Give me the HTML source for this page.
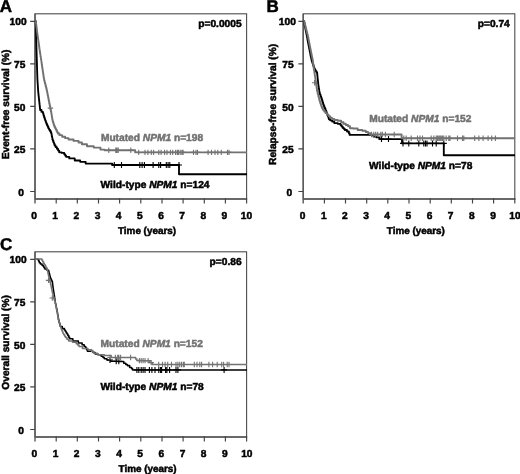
<!DOCTYPE html>
<html lang="en">
<head>
<meta charset="utf-8">
<title>Survival by NPM1 mutation status</title>
<style>
html,body{margin:0;padding:0;background:#fff;}
body{width:520px;height:474px;overflow:hidden;}
svg{display:block;filter:blur(0.3px);}
svg text{font-family:"Liberation Sans", Arial, Helvetica, sans-serif;font-weight:bold;font-size:10.2px;fill:#000;stroke:#000;stroke-width:0.5px;text-rendering:geometricPrecision;}
svg text.g{fill:#727272;stroke:#727272;}
svg text.t{font-size:9.9px;}
svg text.L{font-size:17px;stroke-width:0.5px;}
</style>
</head>
<body>
<svg width="520" height="474" viewBox="0 0 520 474">
<rect width="520" height="474" fill="#fff"/>
<rect x="35.0" y="13.8" width="211.6" height="185.2" fill="none" stroke="#4c4c4c" stroke-width="1.1"/>
<path d="M35.0 13.8V203.4M34.8 199.0H247.1" stroke="#585858" stroke-width="1.4" fill="none"/>
<path d="M30.2 191.5H35.0M30.2 148.9H35.0M30.2 106.4H35.0M30.2 63.9H35.0M30.2 21.3H35.0M56.2 198.2V203.4M77.3 198.2V203.4M98.5 198.2V203.4M119.6 198.2V203.4M140.8 198.2V203.4M162.0 198.2V203.4M183.1 198.2V203.4M204.3 198.2V203.4M225.4 198.2V203.4M246.6 198.2V203.4" stroke="#444" stroke-width="1.15" fill="none"/>
<text x="23.9" y="196.2" text-anchor="end">0</text>
<text x="25.4" y="153.4" text-anchor="end">25</text>
<text x="25.4" y="110.6" text-anchor="end">50</text>
<text x="25.4" y="67.9" text-anchor="end">75</text>
<text x="26.6" y="25.1" text-anchor="end">100</text>
<text x="34.0" y="218.8" text-anchor="middle">0</text>
<text x="55.2" y="218.8" text-anchor="middle">1</text>
<text x="76.3" y="218.8" text-anchor="middle">2</text>
<text x="97.5" y="218.8" text-anchor="middle">3</text>
<text x="118.6" y="218.8" text-anchor="middle">4</text>
<text x="139.8" y="218.8" text-anchor="middle">5</text>
<text x="161.0" y="218.8" text-anchor="middle">6</text>
<text x="182.1" y="218.8" text-anchor="middle">7</text>
<text x="203.3" y="218.8" text-anchor="middle">8</text>
<text x="224.4" y="218.8" text-anchor="middle">9</text>
<text x="246.4" y="218.8" text-anchor="middle">10</text>
<text x="118.0" y="233.6" class="t">Time (years)</text>
<text transform="translate(9.4 104.4) rotate(-90)" text-anchor="middle">Event-free survival (%)</text>
<text x="-0.3" y="12.4" class="L">A</text>
<text x="241.6" y="26.9" text-anchor="end">p=0.0005</text>
<text x="100.9" y="141.1" class="g">Mutated <tspan font-style="italic">NPM1</tspan> n=198</text>
<text x="100.6" y="188.3">Wild-type <tspan font-style="italic">NPM1</tspan> n=124</text>
<path d="M35.8 21.2H35.82V22.65H35.83H35.85V24.09H35.86H35.88V25.54H35.89H35.91V26.98H35.92H35.94V28.43H35.95H35.97V29.88H35.98H36.00V31.32H36.02H36.03V32.77H36.05H36.06V34.22H36.08H36.09V35.66H36.11H36.12V37.11H36.14H36.15V38.55H36.17H36.18V40.00H36.20H36.22V41.54H36.25H36.27V43.08H36.29H36.32V44.62H36.34H36.36V46.15H36.38H36.41V47.69H36.43H36.45V49.23H36.48H36.50V50.77H36.52H36.55V52.31H36.57H36.59V53.85H36.62H36.64V55.38H36.66H36.68V56.92H36.71H36.73V58.46H36.75H36.78V60.00H36.80H36.82V61.46H36.85H36.87V62.92H36.89H36.92V64.38H36.94H36.96V65.85H36.98H37.01V67.31H37.03H37.05V68.77H37.08H37.10V70.23H37.12H37.15V71.69H37.17H37.19V73.15H37.22H37.24V74.62H37.26H37.28V76.08H37.31H37.33V77.54H37.35H37.38V79.00H37.40H37.45V80.58H37.50H37.55V82.15H37.60H37.65V83.72H37.70H37.75V85.30H37.80H37.85V86.88H37.90H37.95V88.45H38.00H38.05V90.02H38.10H38.15V91.60H38.20H38.28V93.06H38.36H38.44V94.51H38.51H38.59V95.97H38.67H38.75V97.43H38.83H38.91V98.89H38.99H39.06V100.34H39.14H39.22V101.80H39.30H39.39V103.44H39.48H39.57V105.08H39.66H39.75V106.72H39.84H39.93V108.36H40.02H40.11V110.00H40.20H41.50V111.90H42.80H42.98V113.27H43.17H43.35V114.63H43.53H43.72V116.00H43.90H44.16V117.53H44.42H44.69V119.05H44.95H45.21V120.57H45.48H45.74V122.10H46.00H46.34V123.65H46.67H47.01V125.20H47.35H47.69V126.75H48.03H48.36V128.30H48.70H49.12V129.67H49.53H49.95V131.03H50.37H50.78V132.40H51.20H51.33V133.76H51.46H51.59V135.12H51.72H51.85V136.48H51.98H52.11V137.84H52.24H52.37V139.20H52.50H52.80V140.75H53.10H53.40V142.30H53.70H54.00V143.85H54.30H54.60V145.40H54.90H55.58V147.10H56.25H56.92V148.80H57.60H58.12V150.55H58.65H59.18V152.30H59.70H61.75V152.90H63.80H64.25V154.20H64.70H65.15V155.50H65.60H66.05V156.80H66.50H69.25V158.40H72.00H74.75V160.50H77.50H80.20V161.80H82.90H85.65V163.60H88.40L111.5 163.6H112.25V165.00H113.00L179.0 165.0L179.0 174.2L247.0 174.2" stroke="#000" stroke-width="1.85" fill="none" stroke-linejoin="round"/>
<path d="M114.3 162.0V168.0M111.3 165.0H117.3M121.5 162.0V168.0M118.5 165.0H124.5M139.8 162.0V168.0M136.8 165.0H142.8M142.1 162.0V168.0M139.1 165.0H145.1M144.4 162.0V168.0M141.4 165.0H147.4M153.1 162.0V168.0M150.1 165.0H156.1M158.8 162.0V168.0M155.8 165.0H161.8M160.6 162.0V168.0M157.6 165.0H163.6M166.3 162.0V168.0M163.3 165.0H169.3M168.1 162.0V168.0M165.1 165.0H171.1M169.8 162.0V168.0M166.8 165.0H172.8M179.0 162.0V168.0M176.0 165.0H182.0" stroke="#000" stroke-width="1.1" fill="none"/>
<path d="M35.8 21.2H35.89V22.62H35.98H36.07V24.04H36.16H36.24V25.47H36.33H36.42V26.89H36.51H36.60V28.31H36.69H36.78V29.73H36.87H36.96V31.16H37.04H37.13V32.58H37.22H37.31V34.00H37.40H37.50V35.46H37.61H37.71V36.92H37.82H37.92V38.38H38.02H38.13V39.85H38.23H38.33V41.31H38.44H38.54V42.77H38.65H38.75V44.23H38.85H38.96V45.69H39.06H39.17V47.15H39.27H39.37V48.62H39.48H39.58V50.08H39.68H39.79V51.54H39.89H40.00V53.00H40.10H40.23V54.62H40.35H40.48V56.23H40.60H40.73V57.85H40.85H40.98V59.47H41.10H41.23V61.08H41.35H41.48V62.70H41.60H41.71V64.18H41.82H41.93V65.66H42.04H42.15V67.15H42.25H42.36V68.63H42.47H42.58V70.11H42.69H42.80V71.59H42.91H43.02V73.07H43.13H43.24V74.55H43.35H43.45V76.04H43.56H43.67V77.52H43.78H43.89V79.00H44.00H44.19V80.44H44.37H44.56V81.89H44.74H44.93V83.33H45.11H45.30V84.77H45.49H45.67V86.21H45.86H46.04V87.66H46.23H46.41V89.10H46.60H46.76V90.69H46.91H47.07V92.27H47.23H47.38V93.86H47.54H47.69V95.45H47.85H48.01V97.04H48.16H48.32V98.62H48.48H48.63V100.21H48.79H48.94V101.80H49.10H49.26V103.38H49.42H49.59V104.95H49.75H49.91V106.52H50.08H50.24V108.10H50.40H50.57V109.80H50.73H50.90V111.50H51.07H51.23V113.20H51.40H51.51V114.58H51.62H51.73V115.96H51.84H51.95V117.34H52.06H52.17V118.72H52.28H52.39V120.10H52.50H52.71V121.45H52.92H53.14V122.80H53.35H53.56V124.15H53.78H53.99V125.50H54.20H54.54V126.88H54.88H55.21V128.25H55.55H55.89V129.62H56.23H56.56V131.00H56.90H57.20V132.25H57.50H57.80V133.50H58.10H59.45V135.15H60.80H62.15V136.80H63.50H65.17V138.15H66.85H68.53V139.50H70.20H73.55V140.90H76.90H78.58V142.55H80.25H81.92V144.20H83.60H87.00V146.20H90.40H93.75V147.60H97.10H100.45V149.60H103.80H104.60V150.30H105.40L134.6 150.3H135.20V152.40H135.80L247.0 152.4" stroke="#727272" stroke-width="1.9" fill="none" stroke-linejoin="round"/>
<path d="M50.4 105.4V110.8M47.7 108.1H53.1M108.8 147.6V153.0M106.1 150.3H111.5M115.8 147.6V153.0M113.1 150.3H118.5M116.9 147.6V153.0M114.2 150.3H119.6M118.2 147.6V153.0M115.5 150.3H120.9M130.8 147.6V153.0M128.1 150.3H133.5M138.7 149.7V155.1M136.0 152.4H141.4M145.0 149.7V155.1M142.3 152.4H147.7M147.9 149.7V155.1M145.2 152.4H150.6M151.3 149.7V155.1M148.6 152.4H154.0M153.6 149.7V155.1M150.9 152.4H156.3M158.8 149.7V155.1M156.1 152.4H161.5M161.1 149.7V155.1M158.4 152.4H163.8M164.6 149.7V155.1M161.9 152.4H167.3M167.0 149.7V155.1M164.3 152.4H169.7M170.4 149.7V155.1M167.7 152.4H173.1M172.7 149.7V155.1M170.0 152.4H175.4M175.6 149.7V155.1M172.9 152.4H178.3M177.3 149.7V155.1M174.6 152.4H180.0M178.4 149.7V155.1M175.7 152.4H181.1M180.2 149.7V155.1M177.5 152.4H182.9M181.9 149.7V155.1M179.2 152.4H184.6M183.1 149.7V155.1M180.4 152.4H185.8M193.5 149.7V155.1M190.8 152.4H196.2M196.0 149.7V155.1M193.3 152.4H198.7M197.5 149.7V155.1M194.8 152.4H200.2M208.1 149.7V155.1M205.4 152.4H210.8M211.5 149.7V155.1M208.8 152.4H214.2M215.0 149.7V155.1M212.3 152.4H217.7M217.8 149.7V155.1M215.1 152.4H220.5M221.3 149.7V155.1M218.6 152.4H224.0M227.5 149.7V155.1M224.8 152.4H230.2M229.0 149.7V155.1M226.3 152.4H231.7" stroke="#727272" stroke-width="1.1" fill="none"/>
<rect x="303.2" y="13.8" width="211.6" height="185.2" fill="none" stroke="#4c4c4c" stroke-width="1.1"/>
<path d="M303.2 13.8V203.4M303.0 199.0H515.3" stroke="#585858" stroke-width="1.4" fill="none"/>
<path d="M298.4 191.5H303.2M298.4 148.9H303.2M298.4 106.4H303.2M298.4 63.9H303.2M298.4 21.3H303.2M324.4 198.2V203.4M345.5 198.2V203.4M366.7 198.2V203.4M387.8 198.2V203.4M409.0 198.2V203.4M430.2 198.2V203.4M451.3 198.2V203.4M472.5 198.2V203.4M493.6 198.2V203.4M514.8 198.2V203.4" stroke="#444" stroke-width="1.15" fill="none"/>
<text x="292.1" y="196.2" text-anchor="end">0</text>
<text x="293.6" y="153.4" text-anchor="end">25</text>
<text x="293.6" y="110.6" text-anchor="end">50</text>
<text x="293.6" y="67.9" text-anchor="end">75</text>
<text x="295.8" y="25.1" text-anchor="end">100</text>
<text x="302.6" y="218.8" text-anchor="middle">0</text>
<text x="323.8" y="218.8" text-anchor="middle">1</text>
<text x="344.9" y="218.8" text-anchor="middle">2</text>
<text x="366.1" y="218.8" text-anchor="middle">3</text>
<text x="387.2" y="218.8" text-anchor="middle">4</text>
<text x="408.4" y="218.8" text-anchor="middle">5</text>
<text x="429.6" y="218.8" text-anchor="middle">6</text>
<text x="450.7" y="218.8" text-anchor="middle">7</text>
<text x="471.9" y="218.8" text-anchor="middle">8</text>
<text x="493.0" y="218.8" text-anchor="middle">9</text>
<text x="515.0" y="218.8" text-anchor="middle">10</text>
<text x="386.8" y="233.6" class="t">Time (years)</text>
<text transform="translate(276.4 104.4) rotate(-90)" text-anchor="middle">Relapse-free survival (%)</text>
<text x="266.6" y="12.4" class="L">B</text>
<text x="509.8" y="26.9" text-anchor="end">p=0.74</text>
<text x="369.2" y="122.4" class="g">Mutated <tspan font-style="italic">NPM1</tspan> n=152</text>
<text x="369.1" y="169.4">Wild-type <tspan font-style="italic">NPM1</tspan> n=78</text>
<path d="M304.0 21.2H304.14V22.69H304.29H304.44V24.18H304.58H304.73V25.67H304.87H305.01V27.16H305.16H305.30V28.65H305.45H305.60V30.14H305.74H305.88V31.63H306.03H306.17V33.12H306.32H306.46V34.61H306.61H306.75V36.10H306.90H307.04V37.62H307.19H307.33V39.14H307.48H307.62V40.67H307.77H307.91V42.19H308.06H308.20V43.71H308.34H308.49V45.23H308.63H308.78V46.76H308.92H309.07V48.28H309.21H309.36V49.80H309.50H309.65V51.26H309.80H309.95V52.71H310.10H310.25V54.17H310.40H310.55V55.63H310.70H310.85V57.09H311.00H311.15V58.54H311.30H311.45V60.00H311.60H311.85V61.48H312.10H312.35V62.97H312.60H312.85V64.45H313.10H313.35V65.93H313.60H313.85V67.42H314.10H314.35V68.90H314.60H315.02V70.17H315.43H315.85V71.43H316.27H316.68V72.70H317.10H317.18V74.28H317.26H317.34V75.85H317.43H317.51V77.42H317.59H317.67V79.00H317.75H317.83V80.58H317.91H317.99V82.15H318.07H318.16V83.72H318.24H318.32V85.30H318.40H318.52V86.82H318.64H318.76V88.34H318.88H319.00V89.86H319.12H319.24V91.38H319.36H319.48V92.90H319.60H319.92V94.60H320.23H320.55V96.30H320.87H321.18V98.00H321.50H321.74V99.58H321.98H322.21V101.15H322.45H322.69V102.72H322.92H323.16V104.30H323.40H323.71V105.88H324.02H324.34V107.45H324.65H324.96V109.02H325.27H325.59V110.60H325.90H326.17V112.03H326.45H326.73V113.47H327.00H327.27V114.90H327.55H327.82V116.33H328.10H328.38V117.77H328.65H328.92V119.20H329.20H330.17V120.35H331.15H332.12V121.50H333.10H334.25V123.10H335.40H337.70V123.80H340.00H340.52V125.10H341.03H341.55V126.40H342.07H342.58V127.70H343.10H343.68V128.85H344.25H344.82V130.00H345.40H346.95V131.50H348.50H348.88V133.20H349.25H349.62V134.90H350.00L372.3 134.9H373.45V136.60H374.60H376.55V137.40H378.50H379.50V139.10H380.50L402.0 139.1L402.0 143.4L443.8 143.4L443.8 155.2L515.0 155.2" stroke="#000" stroke-width="1.85" fill="none" stroke-linejoin="round"/>
<path d="M381.5 136.1V142.1M378.5 139.1H384.5M388.5 136.1V142.1M385.5 139.1H391.5M403.0 140.4V146.4M400.0 143.4H406.0M408.8 140.4V146.4M405.8 143.4H411.8M418.8 140.4V146.4M415.8 143.4H421.8M423.8 140.4V146.4M420.8 143.4H426.8M425.5 140.4V146.4M422.5 143.4H428.5M427.0 140.4V146.4M424.0 143.4H430.0M432.5 140.4V146.4M429.5 143.4H435.5M436.2 140.4V146.4M433.2 143.4H439.2M443.8 140.4V146.4M440.8 143.4H446.8" stroke="#000" stroke-width="1.1" fill="none"/>
<path d="M304.2 21.2H304.38V22.69H304.57H304.75V24.18H304.94H305.12V25.67H305.31H305.50V27.16H305.68H305.87V28.65H306.05H306.23V30.14H306.42H306.60V31.63H306.79H306.97V33.12H307.16H307.34V34.61H307.53H307.71V36.10H307.90H308.05V37.62H308.20H308.35V39.14H308.50H308.65V40.67H308.80H308.95V42.19H309.10H309.25V43.71H309.40H309.55V45.23H309.70H309.85V46.76H310.00H310.15V48.28H310.30H310.45V49.80H310.60H310.75V51.26H310.90H311.05V52.71H311.20H311.35V54.17H311.50H311.65V55.63H311.80H311.95V57.09H312.10H312.25V58.54H312.40H312.55V60.00H312.70H312.80V61.48H312.90H313.00V62.97H313.10H313.20V64.45H313.30H313.40V65.93H313.50H313.60V67.42H313.70H313.80V68.90H313.90H314.02V70.48H314.14H314.26V72.05H314.38H314.49V73.62H314.61H314.73V75.20H314.85H314.97V76.78H315.09H315.21V78.35H315.32H315.44V79.92H315.56H315.68V81.50H315.80H315.91V82.98H316.02H316.12V84.47H316.23H316.34V85.95H316.45H316.56V87.43H316.67H316.77V88.92H316.88H316.99V90.40H317.10H317.28V91.84H317.46H317.64V93.29H317.81H317.99V94.73H318.17H318.35V96.17H318.53H318.71V97.61H318.89H319.06V99.06H319.24H319.42V100.50H319.60H319.86V102.02H320.12H320.38V103.54H320.64H320.90V105.06H321.16H321.42V106.58H321.68H321.94V108.10H322.20H322.87V109.77H323.53H324.20V111.43H324.87H325.53V113.10H326.20H326.97V114.63H327.73H328.50V116.17H329.27H330.03V117.70H330.80H331.95V118.85H333.10H334.25V120.00H335.40H337.70V120.80H340.00H341.15V122.30H342.30H343.45V123.80H344.60H345.75V125.00H346.90H348.05V126.20H349.20H350.00V128.20H350.80H353.10V128.50H355.40H357.70V130.00H360.00H362.30V130.80H364.60H365.75V131.95H366.90H368.05V133.10H369.20H370.75V134.50H372.30L401.6 134.5L401.6 138.2L515.0 138.2" stroke="#727272" stroke-width="1.9" fill="none" stroke-linejoin="round"/>
<path d="M314.6 80.1V85.5M311.9 82.8H317.3M371.5 131.8V137.2M368.8 134.5H374.2M373.8 131.8V137.2M371.1 134.5H376.5M375.7 131.8V137.2M373.0 134.5H378.4M377.7 131.8V137.2M375.0 134.5H380.4M380.8 131.8V137.2M378.1 134.5H383.5M382.3 131.8V137.2M379.6 134.5H385.0M385.4 131.8V137.2M382.7 134.5H388.1M394.2 131.8V137.2M391.5 134.5H396.9M403.8 135.5V140.9M401.1 138.2H406.5M406.2 135.5V140.9M403.5 138.2H408.9M411.2 135.5V140.9M408.5 138.2H413.9M417.5 135.5V140.9M414.8 138.2H420.2M420.0 135.5V140.9M417.3 138.2H422.7M422.5 135.5V140.9M419.8 138.2H425.2M431.2 135.5V140.9M428.5 138.2H433.9M433.8 135.5V140.9M431.1 138.2H436.5M436.2 135.5V140.9M433.5 138.2H438.9M437.5 135.5V140.9M434.8 138.2H440.2M438.8 135.5V140.9M436.1 138.2H441.5M440.0 135.5V140.9M437.3 138.2H442.7M441.2 135.5V140.9M438.5 138.2H443.9M442.5 135.5V140.9M439.8 138.2H445.2M443.8 135.5V140.9M441.1 138.2H446.5M446.2 135.5V140.9M443.5 138.2H448.9M448.8 135.5V140.9M446.1 138.2H451.5M450.0 135.5V140.9M447.3 138.2H452.7M457.5 135.5V140.9M454.8 138.2H460.2M462.5 135.5V140.9M459.8 138.2H465.2M463.8 135.5V140.9M461.1 138.2H466.5M474.7 135.5V140.9M472.0 138.2H477.4M478.9 135.5V140.9M476.2 138.2H481.6M483.1 135.5V140.9M480.4 138.2H485.8M488.1 135.5V140.9M485.4 138.2H490.8M491.7 135.5V140.9M489.0 138.2H494.4M495.4 135.5V140.9M492.7 138.2H498.1" stroke="#727272" stroke-width="1.1" fill="none"/>
<rect x="35.0" y="251.8" width="211.6" height="185.2" fill="none" stroke="#4c4c4c" stroke-width="1.1"/>
<path d="M35.0 251.8V441.4M34.8 437.0H247.1" stroke="#585858" stroke-width="1.4" fill="none"/>
<path d="M30.2 429.5H35.0M30.2 386.9H35.0M30.2 344.4H35.0M30.2 301.9H35.0M30.2 259.3H35.0M56.2 436.2V441.4M77.3 436.2V441.4M98.5 436.2V441.4M119.6 436.2V441.4M140.8 436.2V441.4M162.0 436.2V441.4M183.1 436.2V441.4M204.3 436.2V441.4M225.4 436.2V441.4M246.6 436.2V441.4" stroke="#444" stroke-width="1.15" fill="none"/>
<text x="23.9" y="434.2" text-anchor="end">0</text>
<text x="25.4" y="391.4" text-anchor="end">25</text>
<text x="25.4" y="348.6" text-anchor="end">50</text>
<text x="25.4" y="305.9" text-anchor="end">75</text>
<text x="26.6" y="263.1" text-anchor="end">100</text>
<text x="34.4" y="456.8" text-anchor="middle">0</text>
<text x="55.6" y="456.8" text-anchor="middle">1</text>
<text x="76.7" y="456.8" text-anchor="middle">2</text>
<text x="97.9" y="456.8" text-anchor="middle">3</text>
<text x="119.0" y="456.8" text-anchor="middle">4</text>
<text x="140.2" y="456.8" text-anchor="middle">5</text>
<text x="161.4" y="456.8" text-anchor="middle">6</text>
<text x="182.5" y="456.8" text-anchor="middle">7</text>
<text x="203.7" y="456.8" text-anchor="middle">8</text>
<text x="224.8" y="456.8" text-anchor="middle">9</text>
<text x="246.8" y="456.8" text-anchor="middle">10</text>
<text x="118.6" y="471.6" class="t">Time (years)</text>
<text transform="translate(9.4 342.4) rotate(-90)" text-anchor="middle">Overall survival (%)</text>
<text x="0.0" y="250.4" class="L">C</text>
<text x="241.6" y="264.9" text-anchor="end">p=0.86</text>
<text x="100.6" y="347.0" class="g">Mutated <tspan font-style="italic">NPM1</tspan> n=152</text>
<text x="100.5" y="390.1">Wild-type <tspan font-style="italic">NPM1</tspan> n=78</text>
<path d="M36.4 258.9H37.35V259.50H38.30H38.62V261.10H38.95H39.28V262.70H39.60H40.40V263.95H41.20H42.00V265.20H42.80H43.22V266.47H43.63H44.05V267.73H44.47H44.88V269.00H45.30H46.90V270.30H48.50H48.69V271.80H48.88H49.07V273.30H49.26H49.45V274.80H49.64H49.83V276.30H50.02H50.21V277.80H50.40H50.72V279.07H51.03H51.35V280.33H51.67H51.98V281.60H52.30H52.40V283.12H52.50H52.60V284.64H52.70H52.80V286.16H52.90H53.00V287.68H53.10H53.20V289.20H53.30H53.42V290.72H53.54H53.66V292.24H53.78H53.90V293.76H54.02H54.14V295.28H54.26H54.38V296.80H54.50H54.62V298.47H54.73H54.85V300.13H54.97H55.08V301.80H55.20H55.37V303.40H55.53H55.70V305.00H55.87H56.03V306.60H56.20H56.37V308.20H56.53H56.70V309.80H56.87H57.03V311.40H57.20H57.32V312.78H57.43H57.55V314.17H57.67H57.78V315.55H57.90H58.02V316.93H58.13H58.25V318.32H58.37H58.48V319.70H58.60H58.79V321.06H58.98H59.17V322.42H59.36H59.55V323.78H59.74H59.93V325.14H60.12H60.31V326.50H60.50H62.25V328.60H64.00H64.42V329.95H64.85H65.28V331.30H65.70H66.12V332.65H66.55H66.98V334.00H67.40H67.85V335.60H68.30H68.75V337.20H69.20H69.65V338.80H70.10H72.85V340.90H75.60H78.35V342.90H81.10H82.12V344.65H83.15H84.18V346.40H85.20H85.65V348.00H86.10H86.55V349.60H87.00H87.45V351.20H87.90L92.0 351.2H93.05V352.55H94.10H95.15V353.90H96.20H98.10V354.80H100.00H101.15V356.20H102.30H102.97V357.45H103.65H104.33V358.70H105.00H106.88V359.95H108.75H110.62V361.20H112.50H117.50V361.40H122.50H123.75V363.20H125.00H125.78V364.40H126.55H127.32V365.60H128.10H129.65V367.40H131.20H131.67V368.65H132.15H132.62V369.90H133.10L247.0 369.9" stroke="#000" stroke-width="1.55" fill="none" stroke-linejoin="round"/>
<path d="M110.0 357.0V363.0M107.0 360.0H113.0M116.2 358.3V364.3M113.2 361.3H119.2M118.8 358.3V364.3M115.8 361.3H121.8M136.9 366.9V372.9M133.9 369.9H139.9M138.8 366.9V372.9M135.8 369.9H141.8M141.2 366.9V372.9M138.2 369.9H144.2M143.1 366.9V372.9M140.1 369.9H146.1M145.0 366.9V372.9M142.0 369.9H148.0M149.4 366.9V372.9M146.4 369.9H152.4M151.9 366.9V372.9M148.9 369.9H154.9M155.0 366.9V372.9M152.0 369.9H158.0M158.8 366.9V372.9M155.8 369.9H161.8M160.6 366.9V372.9M157.6 369.9H163.6M161.6 366.9V372.9M158.6 369.9H164.6M165.6 366.9V372.9M162.6 369.9H168.6M166.9 366.9V372.9M163.9 369.9H169.9M169.6 366.9V372.9M166.6 369.9H172.6M176.0 366.9V372.9M173.0 369.9H179.0M177.9 366.9V372.9M174.9 369.9H180.9M224.1 366.9V372.9M221.1 369.9H227.1" stroke="#000" stroke-width="1.1" fill="none"/>
<path d="M36.4 258.9L41.5 258.9H41.90V260.32H42.30H42.70V261.75H43.10H43.50V263.18H43.90H44.30V264.60H44.70H45.12V266.07H45.53H45.95V267.53H46.37H46.78V269.00H47.20H47.36V270.57H47.53H47.69V272.15H47.85H48.01V273.73H48.17H48.34V275.30H48.50H48.69V276.82H48.88H49.07V278.34H49.26H49.45V279.86H49.64H49.83V281.38H50.02H50.21V282.90H50.40H50.56V284.38H50.72H50.88V285.87H51.03H51.19V287.35H51.35H51.51V288.83H51.67H51.83V290.32H51.98H52.14V291.80H52.30H52.49V293.32H52.68H52.87V294.84H53.06H53.25V296.36H53.44H53.63V297.88H53.82H54.01V299.40H54.20H54.43V300.60H54.65H54.88V301.80H55.10H55.27V303.40H55.43H55.60V305.00H55.77H55.93V306.60H56.10H56.27V308.20H56.43H56.60V309.80H56.77H56.93V311.40H57.10H57.22V312.78H57.33H57.45V314.17H57.57H57.68V315.55H57.80H57.92V316.93H58.03H58.15V318.32H58.27H58.38V319.70H58.50H58.70V321.06H58.90H59.10V322.42H59.30H59.50V323.78H59.70H59.90V325.14H60.10H60.30V326.50H60.50H60.78V327.88H61.06H61.34V329.26H61.62H61.90V330.64H62.18H62.46V332.02H62.74H63.02V333.40H63.30H63.75V334.77H64.20H64.65V336.13H65.10H65.55V337.50H66.00H66.88V339.20H67.75H68.62V340.90H69.50H72.55V342.30H75.60H76.28V343.67H76.97H77.65V345.03H78.33H79.02V346.40H79.70H82.45V348.40H85.20H87.95V349.80H90.70H91.72V351.50H92.75H93.78V353.20H94.80H97.40V354.80H100.00H104.35V355.40H108.70H111.20V357.50H113.70H124.35V357.60H135.00H135.62V359.10H136.25H136.88V360.60H137.50H143.10V360.70H148.70H149.85V362.60H151.00H152.35V364.50H153.70L247.0 364.5" stroke="#727272" stroke-width="1.5" fill="none" stroke-linejoin="round"/>
<path d="M48.5 277.7V283.1M45.8 280.4H51.2M52.3 295.3V300.7M49.6 298.0H55.0M110.0 354.8V360.2M107.3 357.5H112.7M115.4 354.8V360.2M112.7 357.5H118.1M117.7 354.8V360.2M115.0 357.5H120.4M118.8 354.8V360.2M116.1 357.5H121.5M120.6 354.8V360.2M117.9 357.5H123.3M130.6 354.8V360.2M127.9 357.5H133.3M139.4 357.9V363.3M136.7 360.6H142.1M141.2 357.9V363.3M138.5 360.6H143.9M143.1 357.9V363.3M140.4 360.6H145.8M145.0 357.9V363.3M142.3 360.6H147.7M148.1 357.9V363.3M145.4 360.6H150.8M151.2 359.9V365.3M148.5 362.6H153.9M158.7 361.8V367.2M156.0 364.5H161.4M162.5 361.8V367.2M159.8 364.5H165.2M165.1 361.8V367.2M162.4 364.5H167.8M167.7 361.8V367.2M165.0 364.5H170.4M171.5 361.8V367.2M168.8 364.5H174.2M176.0 361.8V367.2M173.3 364.5H178.7M177.9 361.8V367.2M175.2 364.5H180.6M179.7 361.8V367.2M177.0 364.5H182.4M181.5 361.8V367.2M178.8 364.5H184.2M183.3 361.8V367.2M180.6 364.5H186.0M184.3 361.8V367.2M181.6 364.5H187.0M194.3 361.8V367.2M191.6 364.5H197.0M197.0 361.8V367.2M194.3 364.5H199.7M199.8 361.8V367.2M197.1 364.5H202.5M201.6 361.8V367.2M198.9 364.5H204.3M208.9 361.8V367.2M206.2 364.5H211.6M212.6 361.8V367.2M209.9 364.5H215.3M217.2 361.8V367.2M214.5 364.5H219.9M221.7 361.8V367.2M219.0 364.5H224.4M223.6 361.8V367.2M220.9 364.5H226.3M227.2 361.8V367.2M224.5 364.5H229.9M229.0 361.8V367.2M226.3 364.5H231.7" stroke="#727272" stroke-width="1.1" fill="none"/>
</svg>
</body>
</html>
